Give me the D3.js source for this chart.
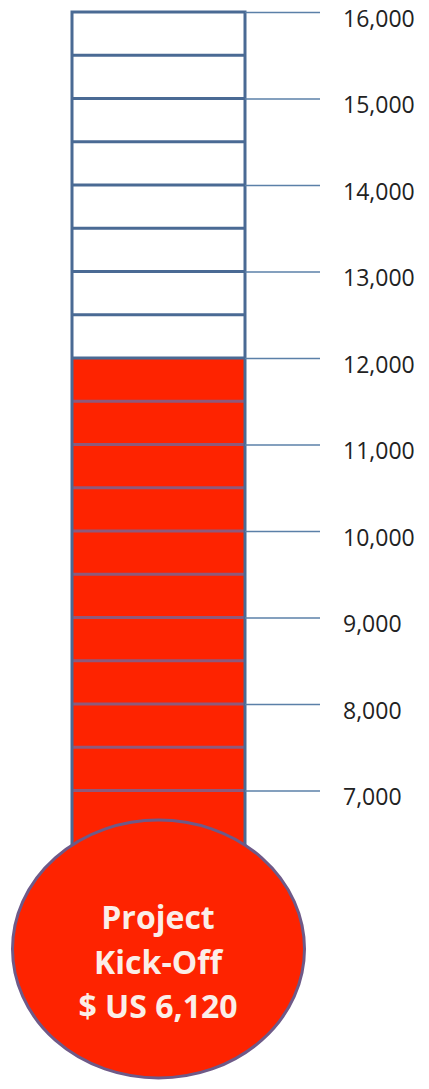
<!DOCTYPE html>
<html><head><meta charset="utf-8">
<script src="https://cdn.jsdelivr.net/npm/d3@7"></script>
<style>html,body{margin:0;padding:0;background:#fff;}</style>
</head><body>
<svg id="c" width="429" height="1089"></svg>
<script>
const tickValues = [7000, 8000, 9000, 10000, 11000, 12000, 13000, 14000, 15000, 16000];
const segmentValues = [7000, 7500, 8000, 8500, 9000, 9500, 10000, 10500, 11000, 11500, 12000, 12500, 13000, 13500, 14000, 14500, 15000, 15500];
const currentValue = [12000];
const scaleDomain = [6000, 16000];
const bulbLines = ["Project", "Kick-Off", "$ US 6,120"];

const svg = d3.select("#c");
const y = d3.scaleLinear().domain(scaleDomain).range([877, 12]);
const x0 = 72, x1 = 245;

// fill
svg.append("rect").attr("x", x0).attr("width", x1 - x0)
  .attr("y", y(currentValue[0])).attr("height", y(scaleDomain[0]) - y(currentValue[0]))
  .attr("fill", "#fe2300");

// segment lines
svg.selectAll("line.seg").data(segmentValues).join("line")
  .attr("x1", x0).attr("x2", x1)
  .attr("y1", d => y(d)).attr("y2", d => y(d))
  .attr("stroke", d => d < currentValue[0] ? "#8e5a7c" : "#4a6a94")
  .attr("stroke-width", 3);

// tube frame
svg.append("rect").attr("x", x0).attr("y", y(scaleDomain[1]))
  .attr("width", x1 - x0).attr("height", y(scaleDomain[0]) - y(scaleDomain[1]))
  .attr("fill", "none").attr("stroke", "#4a6a94").attr("stroke-width", 3);

// axis ticks
const axis = d3.axisRight(y).tickValues(tickValues).tickSize(75).tickFormat(d3.format(","));
const g = svg.append("g").attr("transform", `translate(${x1},0)`).call(axis);
g.select(".domain").remove();
g.selectAll(".tick line").attr("stroke", "#5b80a8").attr("stroke-width", 1.6);
g.selectAll(".tick text").attr("x", 98).attr("dy", "0.35em").attr("y", 6)
  .attr("font-family", "Open Sans").attr("font-size", 23).attr("fill", "#222")
  .attr("text-anchor", "start");

// bulb
svg.append("ellipse").attr("cx", 158.5).attr("cy", 949).attr("rx", 146).attr("ry", 129)
  .attr("fill", "#fe2300").attr("stroke", "#6e5a88").attr("stroke-width", 3);

svg.selectAll("text.bulb").data(bulbLines).join("text")
  .attr("class", "bulb")
  .attr("x", 158).attr("y", (d, i) => 929 + i * 44.5)
  .attr("text-anchor", "middle")
  .attr("font-family", "Open Sans").attr("font-weight", "bold").attr("font-size", 32)
  .attr("fill", "#fbeee8").text(d => d);
</script>
</body></html>
